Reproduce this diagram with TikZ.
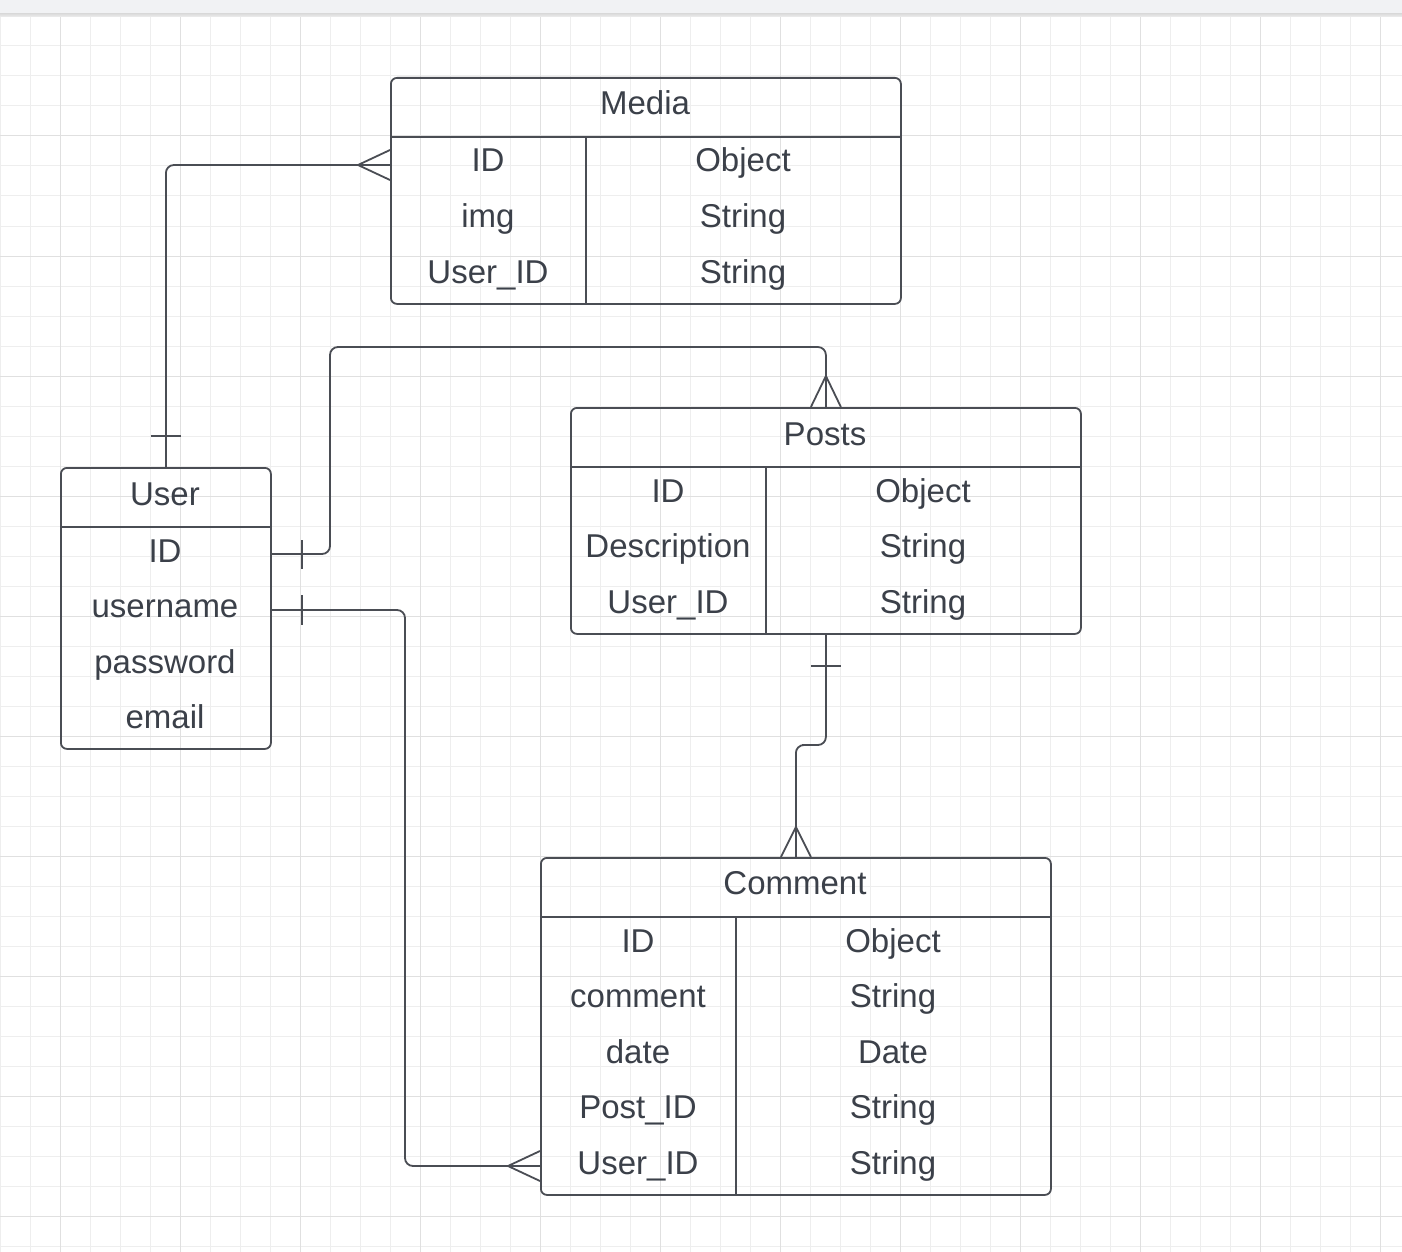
\documentclass[tikz,border=0pt]{standalone}
\usepackage{fontspec}
\setmainfont{Liberation Sans}
\usetikzlibrary{calc}

\definecolor{ink}{HTML}{4A4D54}
\definecolor{txt}{HTML}{3B4049}
\definecolor{gridminor}{HTML}{EEEEEE}
\definecolor{gridmajor}{HTML}{E0E0E0}
\definecolor{topbar}{HTML}{F1F2F4}

\tikzset{
  tbl/.style={draw=ink, line width=1.8pt, rounded corners=6pt, inner sep=0pt, anchor=north west},
  rule/.style={draw=ink, line width=1.8pt},
  lbl/.style={text=txt, font=\fontsize{33}{33}\selectfont, inner sep=0pt, anchor=base},
  link/.style={draw=ink, line width=1.8pt, rounded corners=8pt},
  crow/.style={draw=ink, line width=1.8pt},
  barline/.style={draw=ink, line width=1.8pt},
}

\begin{document}
\begin{tikzpicture}[x=1pt, y=-1pt]
  \useasboundingbox (0,0) rectangle (1402,1252);
  \fill[white] (0,0) rectangle (1402,1252);

  % background grid
  \foreach \gx in {0,30,...,1400} {\draw[gridminor, line width=1pt] (\gx,16) -- (\gx,1252);}
  \foreach \gy in {16,46,...,1250} {\draw[gridminor, line width=1pt] (0,\gy) -- (1402,\gy);}
  \foreach \gx in {60,180,...,1400} {\draw[gridmajor, line width=1pt] (\gx,16) -- (\gx,1252);}
  \foreach \gy in {136,256,...,1250} {\draw[gridmajor, line width=1pt] (0,\gy) -- (1402,\gy);}

  % top toolbar strip
  \fill[topbar] (0,0) rectangle (1402,14);
  \shade[top color=gridmajor!90!black!10!gridmajor, bottom color=gridminor] (0,14) rectangle (1402,17);

  % ---------- Media ----------
  \node[tbl, minimum width=510pt, minimum height=226pt] (media) at (390,77) {};
  \draw[rule] ($(media.north west)+(0,60)$) -- ($(media.north east)+(0,60)$);
  \draw[rule] ($(media.north west)+(196,60)$) -- ($(media.south west)+(196,0)$);
  \node[lbl] (mediaT) at (645,115) {Media};
  \node[lbl] (mediaA1) at (488,172) {ID};
  \node[lbl] (mediaA2) at (488,227.5) {img};
  \node[lbl] (mediaA3) at (488,283) {User\_ID};
  \node[lbl] (mediaB1) at (743,172) {Object};
  \node[lbl] (mediaB2) at (743,227.5) {String};
  \node[lbl] (mediaB3) at (743,283) {String};

  % ---------- Posts ----------
  \node[tbl, minimum width=510pt, minimum height=226pt] (posts) at (570,407) {};
  \draw[rule] ($(posts.north west)+(0,60)$) -- ($(posts.north east)+(0,60)$);
  \draw[rule] ($(posts.north west)+(196,60)$) -- ($(posts.south west)+(196,0)$);
  \node[lbl] (postsT) at (825,445) {Posts};
  \node[lbl] (postsA1) at (668,502) {ID};
  \node[lbl] (postsA2) at (668,557.5) {Description};
  \node[lbl] (postsA3) at (668,613) {User\_ID};
  \node[lbl] (postsB1) at (923,502) {Object};
  \node[lbl] (postsB2) at (923,557.5) {String};
  \node[lbl] (postsB3) at (923,613) {String};

  % ---------- User ----------
  \node[tbl, minimum width=210pt, minimum height=281pt] (user) at (60,467) {};
  \draw[rule] ($(user.north west)+(0,60)$) -- ($(user.north east)+(0,60)$);
  \node[lbl] (userT) at (165,505) {User};
  \node[lbl] (userA1) at (165,562) {ID};
  \node[lbl] (userA2) at (165,617.5) {username};
  \node[lbl] (userA3) at (165,673) {password};
  \node[lbl] (userA4) at (165,728.5) {email};

  % ---------- Comment ----------
  \node[tbl, minimum width=510pt, minimum height=337pt] (comment) at (540,857) {};
  \draw[rule] ($(comment.north west)+(0,60)$) -- ($(comment.north east)+(0,60)$);
  \draw[rule] ($(comment.north west)+(196,60)$) -- ($(comment.south west)+(196,0)$);
  \node[lbl] (commentT) at (795,894) {Comment};
  \node[lbl] (commentA1) at (638,952) {ID};
  \node[lbl] (commentA2) at (638,1007.5) {comment};
  \node[lbl] (commentA3) at (638,1063) {date};
  \node[lbl] (commentA4) at (638,1118.5) {Post\_ID};
  \node[lbl] (commentA5) at (638,1174) {User\_ID};
  \node[lbl] (commentB1) at (893,952) {Object};
  \node[lbl] (commentB2) at (893,1007.5) {String};
  \node[lbl] (commentB3) at (893,1063) {Date};
  \node[lbl] (commentB4) at (893,1118.5) {String};
  \node[lbl] (commentB5) at (893,1174) {String};

  % ---------- connector end points ----------
  \coordinate (mediaIn) at (media.west |- 0,165);
  \coordinate (uidOut) at (user.east |- 0,554);
  \coordinate (unameOut) at (user.east |- 0,610);
  \coordinate (commentIn) at (comment.west |- 0,1166);
  \coordinate (busA) at (330,347);
  \coordinate (busB) at (405,1166);
  \coordinate (jog) at (810,745);

  % ---------- connectors ----------
  % User -> Media (one to many)
  \draw[link] (user.north) |- (mediaIn);
  \draw[barline] ($(user.north)+(-15,-31)$) -- ($(user.north)+(15,-31)$);
  \draw[crow] ($(mediaIn)+(0,-15)$) -- ($(mediaIn)+(-32,0)$) -- ($(mediaIn)+(0,15)$);

  % User -> Posts (one to many)
  \draw[link] (uidOut) -| (busA) -| (posts.north);
  \draw[barline] ($(uidOut)+(30,-14)$) -- ($(uidOut)+(30,15)$);
  \draw[crow] ($(posts.north)+(-15,0)$) -- ($(posts.north)+(0,-31)$) -- ($(posts.north)+(15,0)$);

  % User -> Comment (one to many)
  \draw[link] (unameOut) -| (busB) -- (commentIn);
  \draw[barline] ($(unameOut)+(30,-15)$) -- ($(unameOut)+(30,15)$);
  \draw[crow] ($(commentIn)+(0,-15)$) -- ($(commentIn)+(-32,0)$) -- ($(commentIn)+(0,15)$);

  % Posts -> Comment (one to many)
  \draw[link] (posts.south) |- (jog) -| (comment.north);
  \draw[barline] ($(posts.south)+(-15,31)$) -- ($(posts.south)+(15,31)$);
  \draw[crow] ($(comment.north)+(-15,0)$) -- ($(comment.north)+(0,-30)$) -- ($(comment.north)+(15,0)$);
\end{tikzpicture}
\end{document}
